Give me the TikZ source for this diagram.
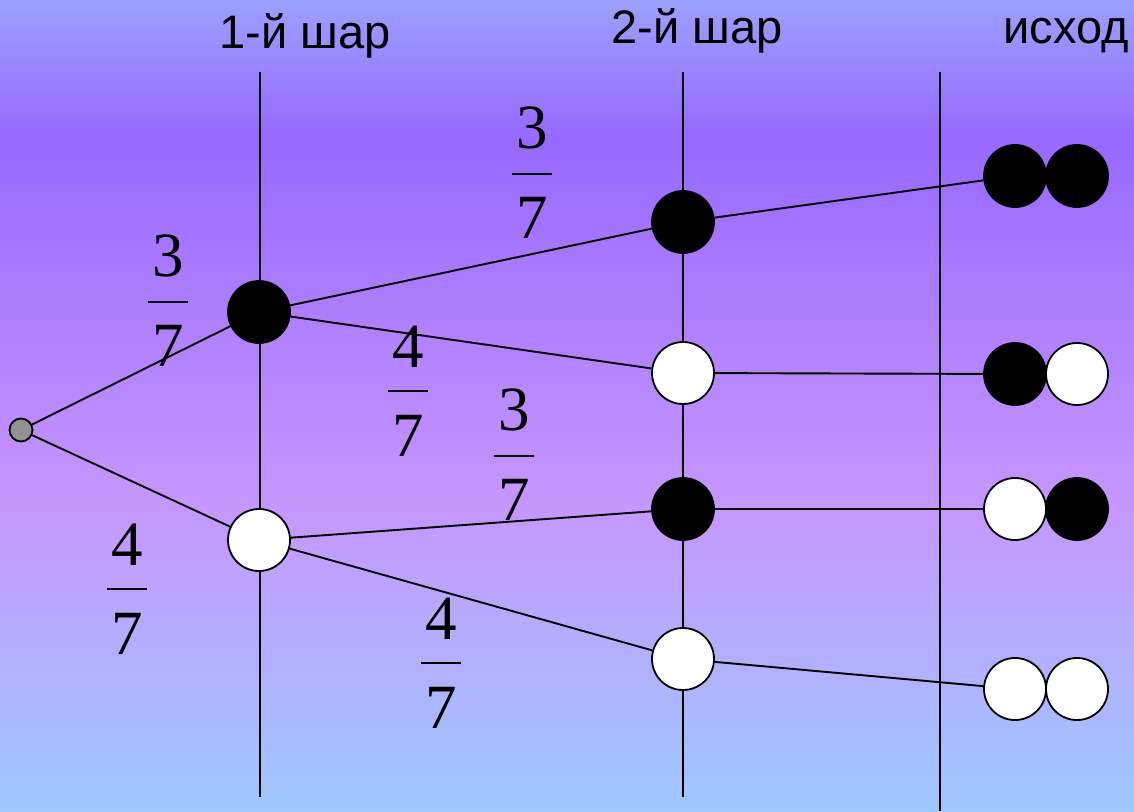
\documentclass[tikz,border=0pt]{standalone}
\usepackage{fontspec}
\setmainfont{Liberation Serif}
\newfontfamily\headfont{Liberation Sans}
\definecolor{bgA}{RGB}{158,200,255}
\definecolor{bgB}{RGB}{198,150,255}
\definecolor{bgC}{RGB}{152,104,255}
\definecolor{bgD}{RGB}{155,160,255}
\definecolor{rootgray}{RGB}{145,145,145}
\pgfdeclareverticalshading{bgshade}{100bp}{color(0bp)=(bgA); color(25bp)=(bgA); color(44bp)=(bgB); color(66.5bp)=(bgC); color(75bp)=(bgD); color(100bp)=(bgD)}
\newcommand{\pfrac}[2]{\vbox{\offinterlineskip\hbox to 40pt{\hss#1\hss}\kern23pt\hrule height 2pt\kern23pt\hbox to 40pt{\hss#2\hss}}}
\tikzset{
  ball/.style={circle, minimum size=62pt, inner sep=0pt, draw=black, line width=1.8pt},
  blackball/.style={ball, fill=black},
  whiteball/.style={ball, fill=white},
  rootball/.style={circle, minimum size=23pt, inner sep=0pt, draw=black, line width=1.8pt, fill=rootgray},
  conn/.style={line width=1.9pt, black},
  axisline/.style={line width=2.2pt, black},
  head/.style={font=\headfont\fontsize{47}{47}\selectfont, anchor=base, inner sep=0pt},
  prob/.style={font=\fontsize{63}{63}\selectfont, inner sep=0pt}
}
\begin{document}
\begin{tikzpicture}[x=1pt,y=-1pt]
\useasboundingbox (0,0) rectangle (1134,811);
\path[shading=bgshade] (0,0) rectangle (1134,811);
% axis lines
\coordinate (v1t) at (260,72); \coordinate (v1b) at (260,797);
\coordinate (v2t) at (683,72); \coordinate (v2b) at (683,797);
\coordinate (v3t) at (940,72); \coordinate (v3b) at (940,811);
\draw[axisline] (v1t) -- (v1b);
\draw[axisline] (v2t) -- (v2b);
\draw[axisline] (v3t) -- (v3b);
% headings
\node[head] (h1) at (305,48) {1-й шар};
\node[head] (h2) at (697,43) {2-й шар};
\node[head] (h3) at (1066,43) {исход};
% nodes
\node[rootball] (root) at (21,430) {};
\node[blackball] (b1) at (259,312) {};
\node[whiteball] (w1) at (259,540) {};
\node[blackball] (b2a) at (683,222) {};
\node[whiteball] (w2a) at (683,373) {};
\node[blackball] (b2b) at (683,509) {};
\node[whiteball] (w2b) at (683,659) {};
% outcomes
\node[blackball] (o1a) at (1015,176) {};
\node[blackball] (o1b) at (1077,176) {};
\node[blackball] (o2a) at (1015,374) {};
\node[whiteball] (o2b) at (1077,374) {};
\node[whiteball] (o3a) at (1015,509) {};
\node[blackball] (o3b) at (1077,509) {};
\node[whiteball] (o4a) at (1015,689) {};
\node[whiteball] (o4b) at (1077,689) {};
% connectors
\draw[conn] (root) -- (b1);
\draw[conn] (root) -- (w1);
\draw[conn] (b1) -- (b2a);
\draw[conn] (b1) -- (w2a);
\draw[conn] (w1) -- (b2b);
\draw[conn] (w1) -- (w2b);
\draw[conn] (b2a) -- (o1a);
\draw[conn] (w2a) -- (o2a);
\draw[conn] (b2b) -- (o3a);
\draw[conn] (w2b) -- (o4a);
% probabilities
\node[prob] (p1) at (168,301) {\pfrac{3}{7}};
\node[prob] (p2) at (127,589) {\pfrac{4}{7}};
\node[prob] (p3) at (532,173) {\pfrac{3}{7}};
\node[prob] (p4) at (408,391) {\pfrac{4}{7}};
\node[prob] (p5) at (514,455) {\pfrac{3}{7}};
\node[prob] (p6) at (441,663) {\pfrac{4}{7}};
\end{tikzpicture}
\end{document}
